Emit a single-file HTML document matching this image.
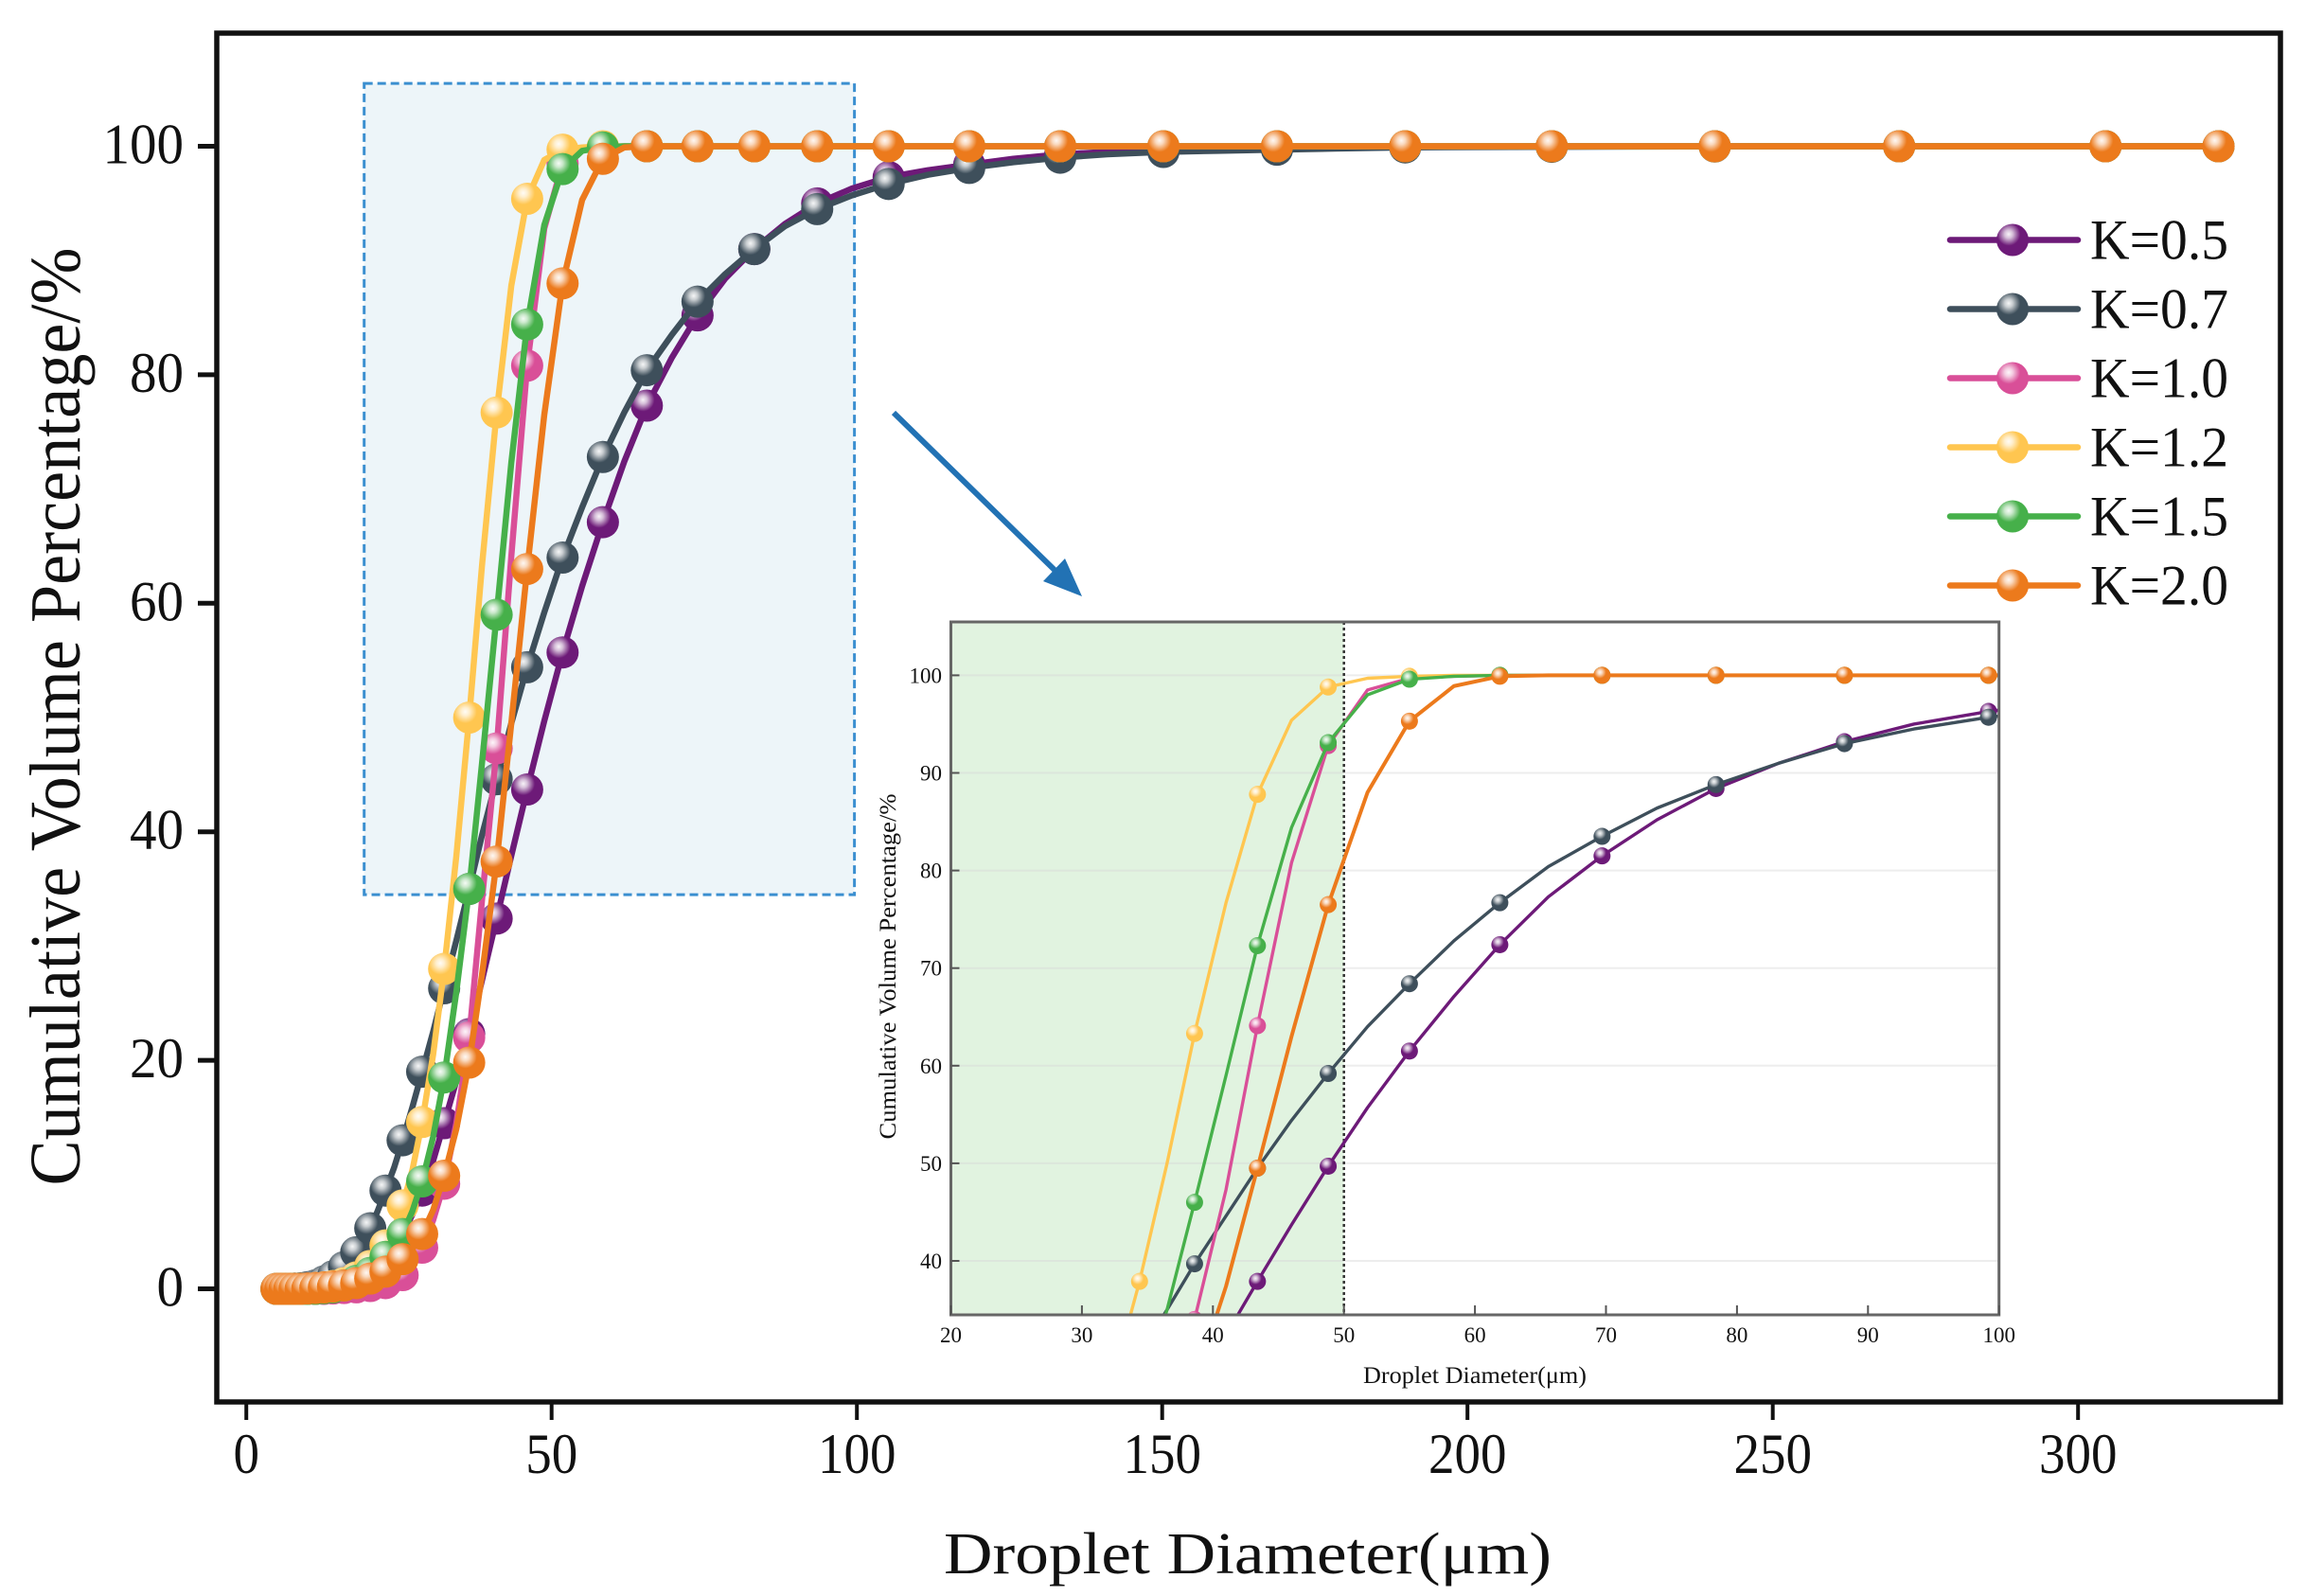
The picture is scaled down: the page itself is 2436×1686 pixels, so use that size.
<!DOCTYPE html>
<html lang="en">
<head>
<meta charset="utf-8">
<title>Cumulative Volume Percentage vs Droplet Diameter</title>
<style>
html,body{margin:0;padding:0;background:#fff}
svg{display:block}
text{font-family:"Liberation Serif","DejaVu Serif",serif;fill:#111}
</style>
</head>
<body>
<svg id="chart" xmlns="http://www.w3.org/2000/svg" width="2436" height="1686" viewBox="0 0 2436 1686">
<defs>
<radialGradient id="sphere-highlight" cx="0.38" cy="0.32" r="0.36">
<stop offset="0" stop-color="#fff" stop-opacity="0.95"/>
<stop offset="0.35" stop-color="#fff" stop-opacity="0.72"/>
<stop offset="1" stop-color="#fff" stop-opacity="0"/>
</radialGradient>
<clipPath id="inset-clip"><rect x="1004.5" y="657" width="1107.5" height="732"/></clipPath>
</defs>
<rect x="0" y="0" width="2436" height="1686" fill="#fff"/>
<g id="zoom-box-layer"></g>
<g id="main-series"></g>
<rect x="229" y="35" width="2180" height="1446" fill="none" stroke="#111" stroke-width="5.5"/>
<g id="main-axes"></g>
<text transform="translate(84,757) rotate(-90)" text-anchor="middle" font-size="76" textLength="991" lengthAdjust="spacingAndGlyphs">Cumulative Volume Percentage/%</text>
<text x="1318" y="1662" text-anchor="middle" font-size="62" textLength="642" lengthAdjust="spacingAndGlyphs">Droplet Diameter(μm)</text>
<g>
<line x1="944" y1="436" x2="1118" y2="606" stroke="#2272b4" stroke-width="6"/>
<polygon points="1143,630 1102,614 1125,590" fill="#2272b4"/>
</g>
<g id="inset"></g>
<g id="legend"></g>
</svg>
<script>
const diameters = [4.95,5.25,5.57,5.9,6.26,6.64,7.04,7.47,7.9,8.4,
8.9,9.45,10,10.6,11.3,11.9,12.7,13.4,14.2,15.1,
16,17,18,19.1,20.3,21.5,22.8,24.2,25.6,27.2,
28.8,30.6,32.4,34.4,36.5,38.6,41,43.4,46,48.8,
51.8,55,58.4,61.9,65.6,69.7,73.9,78.4,83.2,88.2,
93.5,99.2,105.2,111.6,118.4,125.6,133.3,141,150.2,159,
168.8,179,189.8,201,213.8,227,240.5,255,270.7,287,
304.5,323];
const valuesK05 = [0,0,0,0,0,0,0,0,0,0,
0,0,0,0,0.01,0.01,0.02,0.03,0.05,0.08,
0.12,0.2,0.35,0.6,1,1.5,2.4,3.5,4.8,6.5,
8.6,11.2,14.5,18.2,22.3,27,32.4,37.9,43.7,49.7,
55.7,61.5,67.1,72.4,77.3,81.5,85.2,88.4,91,93.2,
95,96.3,97.3,97.9,98.4,98.9,99.3,99.5,99.7,99.8,
99.85,99.9,99.95,99.97,100,100,100,100,100,100,
100,100];
const valuesK07 = [0,0,0,0,0,0,0,0,0.02,0.03,
0.05,0.1,0.15,0.2,0.3,0.45,0.65,0.85,1.1,1.45,
1.9,2.45,3.2,4.1,5.3,6.8,8.6,10.6,13,15.9,
19,22.5,26.3,30.5,35,39.7,44.6,49.5,54.4,59.2,
64,68.4,72.8,76.7,80.4,83.5,86.4,88.8,91,93,
94.5,95.7,96.7,97.5,98.1,98.6,99,99.3,99.5,99.6,
99.7,99.8,99.9,99.93,99.95,99.97,99.98,100,100,100,
100,100];
const valuesK10 = [0,0,0,0,0,0,0,0,0,0,
0,0,0,0,0,0,0,0.02,0.03,0.05,
0.07,0.1,0.13,0.18,0.25,0.35,0.5,0.75,1.2,2.1,
3.6,6,9.2,14.5,22,34,47.3,64.1,80.8,92.8,
98.5,99.7,99.9,100,100,100,100,100,100,100,
100,100,100,100,100,100,100,100,100,100,
100,100,100,100,100,100,100,100,100,100,
100,100];
const valuesK12 = [0,0,0,0,0,0,0,0,0,0,
0,0,0,0,0.07,0.1,0.13,0.18,0.25,0.35,
0.5,0.7,1,1.4,2,2.8,3.8,5.3,7.3,10.4,
14.6,20.5,28,37.9,50,63.3,76.7,87.8,95.4,98.8,
99.7,99.9,100,100,100,100,100,100,100,100,
100,100,100,100,100,100,100,100,100,100,
100,100,100,100,100,100,100,100,100,100,
100,100];
const valuesK15 = [0,0,0,0,0,0,0,0,0,0,
0,0,0,0,0,0,0.05,0.08,0.12,0.2,
0.3,0.45,0.7,1,1.4,2,2.8,3.6,4.8,6.8,
9.4,13.3,18.5,26,35,46,59,72.3,84.4,93.1,
98,99.6,99.9,100,100,100,100,100,100,100,
100,100,100,100,100,100,100,100,100,100,
100,100,100,100,100,100,100,100,100,100,
100,100];
const valuesK20 = [0,0,0,0,0,0,0,0,0,0,
0,0,0.03,0.05,0.07,0.09,0.12,0.15,0.2,0.25,
0.3,0.4,0.5,0.7,0.9,1.15,1.5,2,2.6,3.5,
4.8,6.9,9.9,14,19.8,27.5,37.4,49.5,63,76.5,
88,95.3,98.9,99.9,100,100,100,100,100,100,
100,100,100,100,100,100,100,100,100,100,
100,100,100,100,100,100,100,100,100,100,
100,100];
const seriesLabels = ['K=0.5','K=0.7','K=1.0','K=1.2','K=1.5','K=2.0'];
const mainXTicks = [0,50,100,150,200,250,300];
const mainYTicks = [0,20,40,60,80,100];
const insetXTicks = [20,30,40,50,60,70,80,90,100];
const insetYTicks = [40,50,60,70,80,90,100];

const allSeries = [valuesK05,valuesK07,valuesK10,valuesK12,valuesK15,valuesK20];
const seriesColors = ['#6d1a78','#3e4f5b','#d94f98','#ffc650','#46b04a','#ec7a1c'];
const SVG_NS = 'http://www.w3.org/2000/svg';

function mainX(v){return 260.2+6.45*v;}
function mainY(v){return 1361.5-12.07*v;}
function insetX(v){return 1004.5+13.84*(v-20);}
function insetY(v){return 713.4-10.31*(v-100);}
function slug(label){return label.toLowerCase().replace('=','-').replace('.','-');}

function make(tag,parent,attrs){
  const el=document.createElementNS(SVG_NS,tag);
  for(const k in attrs){el.setAttribute(k,attrs[k]);}
  parent.appendChild(el);
  return el;
}
function sphere(parent,cx,cy,r,color,name){
  const g=make('g',parent,{});
  
  
  const base=make('circle',g,{cx:cx,cy:cy,r:r,fill:color});
  
  
  const shine=make('circle',g,{cx:cx,cy:cy,r:r,fill:'url(#sphere-highlight)'});
  
  
}
function pointsFor(values,sx,sy){
  return values.map(function(v,i){return sx(diameters[i]).toFixed(2)+','+sy(v).toFixed(2);}).join(' ');
}

/* zoom region marker on the main plot */
const boxLayer=document.getElementById('zoom-box-layer');
const zoomBox=make('rect',boxLayer,{x:mainX(19.3),y:mainY(105.5),width:mainX(99.6)-mainX(19.3),height:mainY(34.5)-mainY(105.5),fill:'#edf5f9',stroke:'#3b8fd0','stroke-width':3,'stroke-dasharray':'9 5'});



/* main series */
const mainLayer=document.getElementById('main-series');
allSeries.forEach(function(values,s){
  const color=seriesColors[s];
  const key=slug(seriesLabels[s]);
  const line=make('polyline',mainLayer,{points:pointsFor(values,mainX,mainY),fill:'none',stroke:color,'stroke-width':6.5,'stroke-linejoin':'round'});
  
  
  values.forEach(function(v,i){
    if(i%2===0||i===values.length-1){
      sphere(mainLayer,mainX(diameters[i]),mainY(v),17,color,'point-'+key);
    }
  });
});

/* main axes */
const axes=document.getElementById('main-axes');
mainXTicks.forEach(function(t){
  const tick=make('line',axes,{x1:mainX(t),x2:mainX(t),y1:1481,y2:1500,stroke:'#111','stroke-width':4});
  
  
  const lab=make('text',axes,{x:mainX(t),y:1556,'text-anchor':'middle','font-size':60,textLength:String(t).length*27.5,lengthAdjust:'spacingAndGlyphs'});
  
  
  lab.textContent=t;
});
mainYTicks.forEach(function(t){
  const tick=make('line',axes,{x1:209,x2:229,y1:mainY(t),y2:mainY(t),stroke:'#111','stroke-width':5});
  
  
  const lab=make('text',axes,{x:194,y:mainY(t)+18,'text-anchor':'end','font-size':60,textLength:String(t).length*28.5,lengthAdjust:'spacingAndGlyphs'});
  
  
  lab.textContent=t;
});

/* inset */
const inset=document.getElementById('inset');
const insetBg=make('rect',inset,{x:insetX(20),y:657,width:insetX(100)-insetX(20),height:732,fill:'#fff'});


const band=make('rect',inset,{x:insetX(20),y:657,width:insetX(50)-insetX(20),height:732,fill:'#e1f3e0'});


insetYTicks.forEach(function(t){
  const grid=make('line',inset,{x1:insetX(20),x2:insetX(100),y1:insetY(t),y2:insetY(t),stroke:'#d6d6d6','stroke-opacity':0.45,'stroke-width':2});
  
  
});
const ref50=make('line',inset,{x1:insetX(50),x2:insetX(50),y1:657,y2:1389,stroke:'#333','stroke-width':2.5,'stroke-dasharray':'3 3'});


const insetPlot=make('g',inset,{'clip-path':'url(#inset-clip)'});


allSeries.forEach(function(values,s){
  const color=seriesColors[s];
  const key=slug(seriesLabels[s]);
  const line=make('polyline',insetPlot,{points:pointsFor(values,insetX,insetY),fill:'none',stroke:color,'stroke-width':s===5?4:3.4,'stroke-linejoin':'round'});
  
  
  values.forEach(function(v,i){
    if(i%2===1&&diameters[i]>=20&&diameters[i]<=100){
      sphere(insetPlot,insetX(diameters[i]),insetY(v),9,color,'inset-point-'+key);
    }
  });
});
const insetFrame=make('rect',inset,{x:insetX(20),y:657,width:insetX(100)-insetX(20),height:732,fill:'none',stroke:'#666','stroke-width':3});


insetXTicks.forEach(function(t){
  const tick=make('line',inset,{x1:insetX(t),x2:insetX(t),y1:1379,y2:1389,stroke:'#555','stroke-width':2});
  
  
  const lab=make('text',inset,{x:insetX(t),y:1418,'text-anchor':'middle','font-size':23});
  
  
  lab.textContent=t;
});
insetYTicks.forEach(function(t){
  const tick=make('line',inset,{x1:insetX(20),x2:insetX(20)+9,y1:insetY(t),y2:insetY(t),stroke:'#555','stroke-width':2});
  
  
  const lab=make('text',inset,{x:995,y:insetY(t)+8,'text-anchor':'end','font-size':23});
  
  
  lab.textContent=t;
});
const insetXTitle=make('text',inset,{x:1558,y:1461,'text-anchor':'middle','font-size':25,textLength:236,lengthAdjust:'spacingAndGlyphs'});


insetXTitle.textContent='Droplet Diameter(μm)';
const insetYTitle=make('text',inset,{transform:'translate(946,1021) rotate(-90)','text-anchor':'middle','font-size':25,textLength:365,lengthAdjust:'spacingAndGlyphs'});


insetYTitle.textContent='Cumulative Volume Percentage/%';

/* legend */
const legend=document.getElementById('legend');
seriesLabels.forEach(function(label,s){
  const rowY=253.5+73*s;
  const key=slug(label);
  const row=make('g',legend,{});
  
  
  const ln=make('line',row,{x1:2060,x2:2195,y1:rowY,y2:rowY,stroke:seriesColors[s],'stroke-width':6.5,'stroke-linecap':'round'});
  
  
  sphere(row,2126,rowY,17,seriesColors[s],'legend-marker-'+key);
  const tx=make('text',row,{x:2208,y:rowY+20,'font-size':60,textLength:146,lengthAdjust:'spacingAndGlyphs'});
  
  
  tx.textContent=label;
});
</script>
</body>
</html>
